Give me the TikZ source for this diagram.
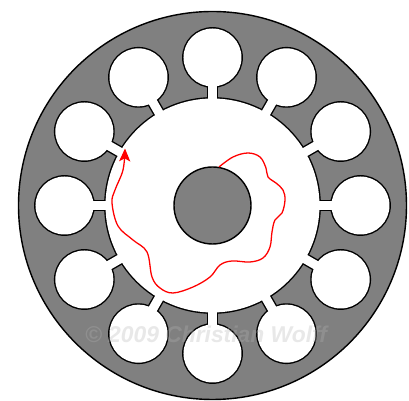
\documentclass[tikz,border=0pt]{standalone}
\usepackage{fontspec}
\setmainfont{Liberation Sans}
\usepackage{tikz}
\usetikzlibrary{arrows.meta}
\definecolor{iron}{HTML}{808080}
\definecolor{flux}{HTML}{FF0000}
\definecolor{mark}{HTML}{B3B3B3}

\begin{document}
\begin{tikzpicture}[
  x=0.03cm, y=0.03cm,
  core/.style={fill=iron, draw=black, line width=1.2pt},
  gaprim/.style={draw=black, line width=2.4pt},
  gapfill/.style={fill=white},
  fluxline/.style={draw=flux, line width=1.1pt, -{Stealth[length=11pt,width=9.5pt,inset=2.5pt]}},
  credit/.style={text=mark, opacity=0.3, font=\fontsize{19.5}{19.5}\selectfont\bfseries\itshape}
]
\useasboundingbox (-212.5,-195.5) rectangle (196.5,205.5);
\path[core] (0,0) circle (194);
\foreach \a in {0,30,...,330}{
  \path[gaprim] (\a:148) circle (29);
  \path[gaprim,rotate=\a] (100,-4.5) rectangle (125,4.5);
}
\path[gaprim] (0,0) circle (107);
\foreach \a in {0,30,...,330}{
  \path[gapfill] (\a:148) circle (29);
  \path[gapfill,rotate=\a] (100,-4.5) rectangle (125,4.5);
}
\path[gapfill] (0,0) circle (107);
\node[core, circle, minimum size=77*0.03cm, inner sep=0pt] (rotor) at (0,0) {};
\draw[fluxline] plot[smooth, tension=0.6] coordinates {
  (6.5,38.5) (20.5,48.5) (35.5,52.5) (47.5,48.5) (53.5,37.5) (55.5,28.5)
  (63.5,22.5) (70.5,15.5) (72.5,5.5) (69.5,-7.5) (62.5,-14.5) (59.5,-26.5)
  (57.5,-41.5) (50.5,-52.5) (37.5,-56.5) (19.5,-55.5) (7.5,-59.5)
  (-2.5,-71.5) (-19.5,-81.5) (-39.5,-87.5) (-52.5,-82.5) (-60.5,-71.5)
  (-65.5,-46.5) (-79.5,-34.5) (-94.5,-20.5) (-100.5,2.5) (-97.5,15.5)
  (-89.5,35.5) (-87.5,57)};
\node[credit] (credit) at (-6.5,-129) {© 2009 Christian Wolff};
\end{tikzpicture}
\end{document}
